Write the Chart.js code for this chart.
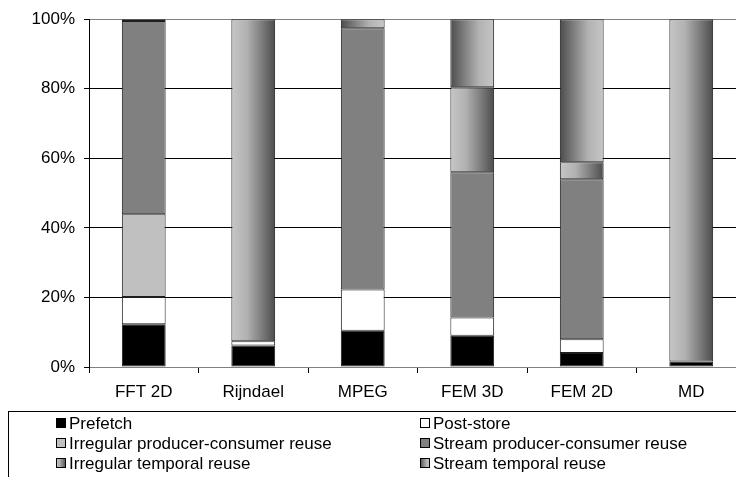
<!DOCTYPE html>
<html>
<head>
<meta charset="utf-8">
<script src="https://cdn.jsdelivr.net/npm/chart.js@4.4.1/dist/chart.umd.min.js"></script>
<style>
  html, body { margin: 0; padding: 0; background: #fff; overflow: hidden; }
  #wrap { width: 736px; height: 477px; overflow: hidden; }
</style>
</head>
<body>
<div id="wrap"><canvas id="chart" width="760" height="477"></canvas></div>
<script>
// values in percent, bottom to top of each stack
const categories = ['FFT 2D', 'Rijndael', 'MPEG', 'FEM 3D', 'FEM 2D', 'MD'];
const prefetch = [12.3, 6.2, 10.4, 9.0, 4.0, 1.6];
const postStore = [7.8, 1.2, 11.9, 5.2, 4.0, 0];
const irregularPC = [23.8, 0, 0, 0, 0, 0];
const streamPC = [55.6, 0, 75.1, 41.8, 46.0, 0];
const irregularTemporal = [0.5, 92.6, 0, 24.4, 4.9, 98.4];
const streamTemporal = [0, 0, 2.6, 19.6, 41.1, 0];
const yTicks = [0, 20, 40, 60, 80, 100];

const BAR_FRACTION = 0.4;
const lightToDark = [[0, '#c6c6c6'], [0.35, '#b2b2b2'], [0.7, '#7c7c7c'], [1, '#4c4c4c']];
const darkToLight = [[0, '#4c4c4c'], [0.3, '#7c7c7c'], [0.65, '#b2b2b2'], [1, '#c6c6c6']];

function makeGrad(c, x0, x1, stops) {
    const g = c.createLinearGradient(x0, 0, x1, 0);
    stops.forEach(s => g.addColorStop(s[0], s[1]));
    return g;
}

function barGradient(stops) {
    return function (ctx) {
        const chart = ctx.chart;
        const x = chart.scales.x;
        if (!x || !chart.chartArea || ctx.dataIndex === undefined) return '#999999';
        const cx = x.getPixelForValue(ctx.dataIndex);
        const w = (x.width / categories.length) * BAR_FRACTION;
        if (!isFinite(cx) || !isFinite(w) || w <= 0) return '#999999';
        return makeGrad(chart.ctx, cx - w / 2, cx + w / 2, stops);
    };
}

function ds(label, data, color, legendFill) {
    return {
        label: label,
        data: data,
        backgroundColor: color,
        borderColor: '#1e1e1e',
        borderWidth: 1,
        borderSkipped: false,
        legendFill: legendFill
    };
}

const datasets = [
    ds('Prefetch', prefetch, '#000000', '#000000'),
    ds('Post-store', postStore, '#ffffff', '#ffffff'),
    ds('Irregular producer-consumer reuse', irregularPC, '#c0c0c0', '#c0c0c0'),
    ds('Stream producer-consumer reuse', streamPC, '#808080', '#808080'),
    ds('Irregular temporal reuse', irregularTemporal, barGradient(lightToDark), lightToDark),
    ds('Stream temporal reuse', streamTemporal, barGradient(darkToLight), darkToLight)
];

// boxed two-column legend under the axis
const boxLegend = {
    id: 'boxLegend',
    afterDraw(chart) {
        const c = chart.ctx;
        c.save();
        c.strokeStyle = '#000';
        c.lineWidth = 1;
        c.strokeRect(8.5, 411.5, 900, 120);
        c.font = '17px "Liberation Sans", Arial, sans-serif';
        c.textBaseline = 'middle';
        chart.data.datasets.forEach((d, i) => {
            const col = i % 2, row = Math.floor(i / 2);
            const mx = [56, 420][col];
            const my = 423 + row * 20;
            const fill = d.legendFill;
            c.fillStyle = Array.isArray(fill) ? makeGrad(c, mx, mx + 10, fill) : fill;
            c.fillRect(mx, my - 5, 10, 10);
            c.strokeStyle = '#000';
            c.strokeRect(mx + 0.5, my - 4.5, 9, 9);
            c.fillStyle = '#000';
            c.fillText(d.label, mx + 13, my + 1);
        });
        c.restore();
    }
};

Chart.defaults.font.family = '"Liberation Sans", Arial, sans-serif';
Chart.defaults.font.size = 17;
Chart.defaults.color = '#000';

new Chart(document.getElementById('chart'), {
    type: 'bar',
    data: { labels: categories, datasets: datasets },
    options: {
        responsive: false,
        animation: false,
        layout: { padding: { top: 15, right: 14, left: 0, bottom: 0 } },
        datasets: { bar: { categoryPercentage: 1, barPercentage: BAR_FRACTION } },
        plugins: { legend: { display: false }, tooltip: { enabled: false } },
        scales: {
            x: {
                stacked: true,
                afterFit: s => { s.height = 110; },
                border: { color: '#808080' },
                grid: { offset: true, drawOnChartArea: false, drawTicks: true, tickLength: 6, color: '#000' },
                ticks: { padding: 9, font: { size: 17 } }
            },
            y: {
                stacked: true,
                min: 0,
                max: 100,
                afterFit: s => { s.width = 89; },
                afterBuildTicks: s => { s.ticks = yTicks.map(v => ({ value: v })); },
                border: { color: '#000' },
                grid: {
                    color: c => (c.tick && (c.tick.value === 100 || c.tick.value === 0)) ? '#808080' : '#000',
                    tickColor: '#000',
                    tickLength: 5
                },
                ticks: { padding: 9, font: { size: 17 }, callback: v => v + '%' }
            }
        }
    },
    plugins: [boxLegend]
});
</script>
</body>
</html>
